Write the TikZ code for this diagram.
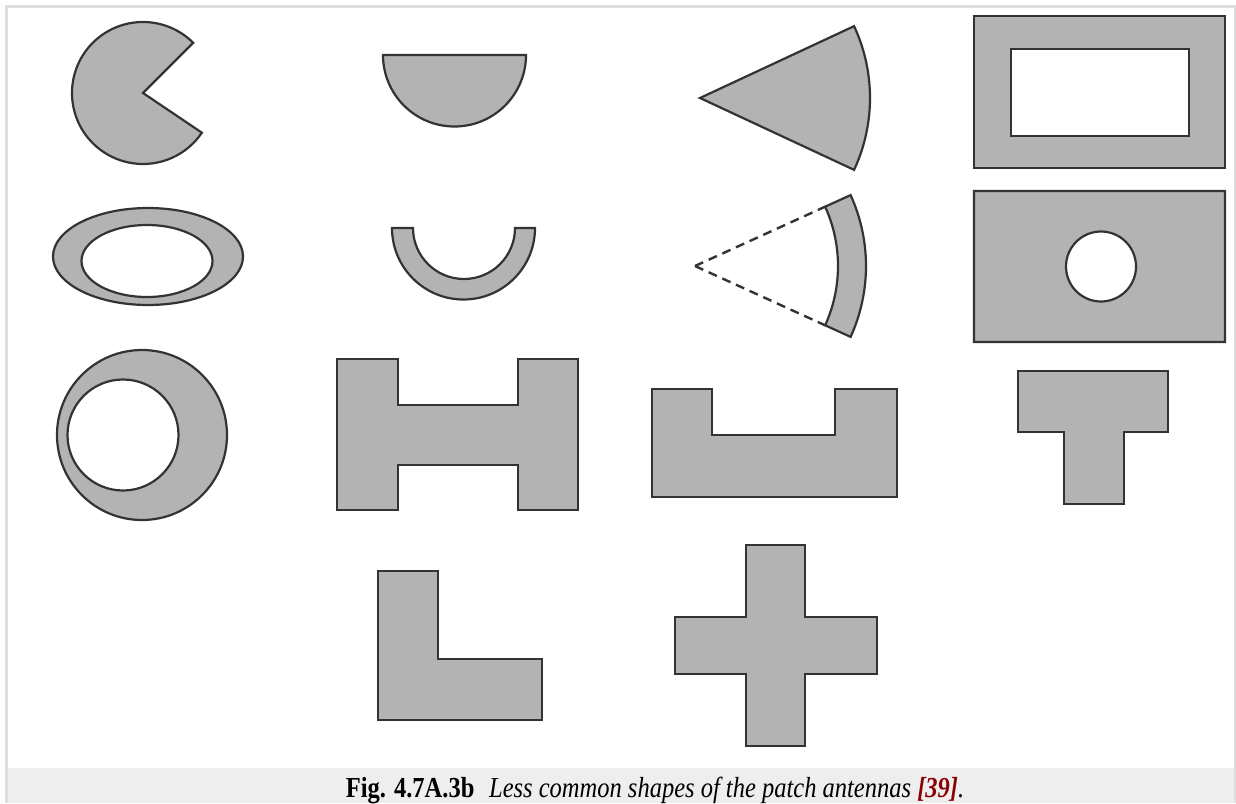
\documentclass[tikz,border=0pt]{standalone}
\usepackage{fontspec}
\setmainfont{Liberation Serif}
\usetikzlibrary{calc}
\definecolor{patchgray}{HTML}{B3B3B3}
\definecolor{edgecol}{HTML}{333333}
\definecolor{framegray}{HTML}{DDDDDD}
\definecolor{capband}{HTML}{EEEEEE}
\definecolor{refred}{HTML}{8B0000}
\tikzset{
  patch/.style={fill=patchgray, draw=edgecol, line width=2.2pt, line join=miter},
  hole/.style={patch, even odd rule},
  dashline/.style={draw=edgecol, line width=2.4pt, dash pattern=on 9pt off 6pt}
}
\begin{document}
\begin{tikzpicture}[x=1pt,y=-1pt]
\useasboundingbox (0,0) rectangle (1236,803);
\fill[white] (0,0) rectangle (1236,803);
% frame and caption band
\fill[capband] (8,768) rectangle (1234,803);
\fill[framegray] (5,5) rectangle (8,803);
\fill[framegray] (5,5) rectangle (1236,8);
\fill[framegray] (1234,5) rectangle (1236,803);
% row 1
\draw[patch] (143,93) -- ++(-45:71) arc[start angle=-45, end angle=-326, radius=71] -- cycle;
\draw[patch] (383,55) -- (526,55) arc[start angle=0, end angle=180, radius=71.5] -- cycle;
\draw[patch] (700,98) -- ++(-25:170) arc[start angle=-25, end angle=25, radius=170] -- cycle;
\path[hole] (974,16) rectangle (1225,168) (1011,49) rectangle (1189,136);
% row 2
\path[hole] (148,256.5) ellipse[x radius=95, y radius=48.5] (147,261) ellipse[x radius=65.5, y radius=36];
\draw[patch] (392,228) arc[start angle=180, end angle=0, radius=71.5] -- (515,228) arc[start angle=0, end angle=180, radius=51] -- cycle;
\coordinate (apex) at (695,266);
\draw[patch] ($(apex)+(-24.5:171)$) arc[start angle=-24.5, end angle=24.5, radius=171] -- ($(apex)+(24.5:143)$) arc[start angle=24.5, end angle=-24.5, radius=143] -- cycle;
\draw[dashline] (apex) -- ($(apex)+(-24.5:143)$);
\draw[dashline] (apex) -- ($(apex)+(24.5:143)$);
\path[hole] (974,191) rectangle (1225,342) (1101,266.5) circle[radius=35];
% row 3
\path[hole] (142,435) circle[radius=85] (123,435) circle[radius=55.5];
\draw[patch] (337,359) -- (398,359) -- (398,405) -- (518,405) -- (518,359) -- (578,359) -- (578,510) -- (518,510) -- (518,465) -- (398,465) -- (398,510) -- (337,510) -- cycle;
\draw[patch] (652,389) -- (712,389) -- (712,435) -- (835,435) -- (835,389) -- (897,389) -- (897,497) -- (652,497) -- cycle;
\draw[patch] (1018,371) -- (1168,371) -- (1168,432) -- (1124,432) -- (1124,504) -- (1064,504) -- (1064,432) -- (1018,432) -- cycle;
% row 4
\draw[patch] (378,571) -- (438,571) -- (438,659) -- (542,659) -- (542,720) -- (378,720) -- cycle;
\draw[patch] (746,545) -- (805,545) -- (805,617) -- (877,617) -- (877,674) -- (805,674) -- (805,746) -- (746,746) -- (746,674) -- (675,674) -- (675,617) -- (746,617) -- cycle;
% caption
\node[anchor=base, inner sep=0pt, font=\fontsize{29}{32}\selectfont] (cap) at (655,797)
  {\scalebox{0.845}[1]{\textbf{Fig. 4.7A.3b}\hspace{0.6em}\textit{Less common shapes of the patch antennas \textcolor{refred}{\textbf{[39]}}.}}};
\end{tikzpicture}
\end{document}
